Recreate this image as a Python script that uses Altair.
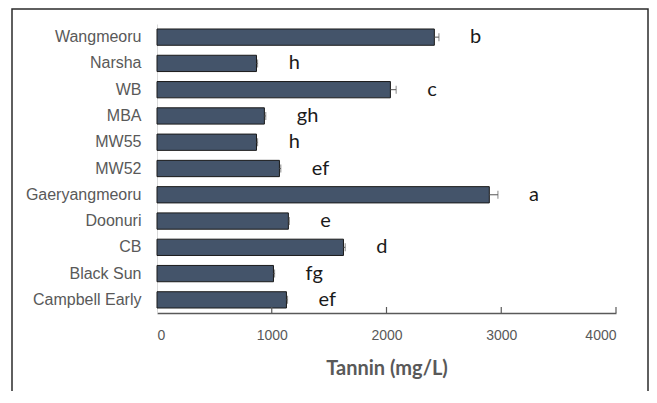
import altair as alt
import pandas as pd

varieties = ["Wangmeoru", "Narsha", "WB", "MBA", "MW55", "MW52",
             "Gaeryangmeoru", "Doonuri", "CB", "Black Sun", "Campbell Early"]
tannin = [2417, 867, 2034, 936, 867, 1067, 2896, 1145, 1625, 1015, 1128]
errors = [40, 10, 50, 12, 10, 12, 75, 8, 15, 10, 10]
letters = ["b", "h", "c", "gh", "h", "ef", "a", "e", "d", "fg", "ef"]
x_ticks = [0, 1000, 2000, 3000, 4000]
inner_ticks = [1000, 2000, 3000, 4000]

df = pd.DataFrame({"variety": varieties, "tannin": tannin, "err": errors, "letter": letters})
df["hi"] = df["tannin"] + df["err"]
ticks_df = pd.DataFrame({"tannin": inner_ticks})
frame_df = pd.DataFrame({"a": [0]})

W, H = 459, 289
TITLE = "Tannin (mg/L)"

x_axis = alt.Axis(values=x_ticks, ticks=False, grid=False, labelPadding=15, format="d",
                  labelFont="Liberation Sans", labelFontSize=14, labelColor="#595959",
                  domainColor="#595959", domainWidth=1.5,
                  titleFont="Lato", titleFontSize=20, titleColor="#595959",
                  titleFontWeight="bold", titlePadding=16)
xscale = alt.Scale(domain=[0, 4000], nice=False)

y = alt.Y("variety:N", sort=varieties,
          scale=alt.Scale(paddingInner=0.38, paddingOuter=0.19),
          axis=alt.Axis(title=None, ticks=False, labelPadding=16,
                        labelFont="Liberation Sans", labelFontSize=16,
                        labelColor="#595959", domainColor="#d9d9d9", domainWidth=1))

base = alt.Chart(df)

bars = base.mark_bar(color="#44546A", stroke="#1a1a1a", strokeWidth=1).encode(
    x=alt.X("tannin:Q", scale=xscale, axis=x_axis, title=TITLE), y=y)

err_rule = base.mark_rule(color="#555555", strokeWidth=1).encode(
    x=alt.X("tannin:Q", scale=xscale, axis=x_axis, title=TITLE), x2="hi:Q", y=y)

err_cap = base.mark_tick(color="#555555", thickness=1, size=8).encode(
    x=alt.X("hi:Q", scale=xscale, axis=x_axis, title=TITLE), y=y)

labels = base.mark_text(align="left", dx=31, font="Lato", fontSize=20, color="#1a1a1a").encode(
    x=alt.X("hi:Q", scale=xscale, axis=x_axis, title=TITLE), y=y, text="letter:N")

tick_marks = alt.Chart(ticks_df).mark_rule(color="#595959", strokeWidth=1.2).encode(
    x=alt.X("tannin:Q", scale=xscale, axis=x_axis, title=TITLE),
    y=alt.value(H), y2=alt.value(H - 6))

frame = alt.Chart(frame_df).mark_rect(fill="white", fillOpacity=0, stroke="#2b2b2b",
                                      strokeWidth=1.5).encode(
    x=alt.value(-145), x2=alt.value(491), y=alt.value(-15), y2=alt.value(400))

chart = alt.layer(frame, bars, err_rule, err_cap, labels, tick_marks).properties(
    width=W, height=H,
    padding={"left": 149, "top": 16, "right": 33, "bottom": 78},
    autosize=alt.AutoSizeParams(type="none"),
    background="white",
).configure_view(strokeWidth=0)

chart.save("out.html", embed_options={"renderer": "svg", "actions": False})
